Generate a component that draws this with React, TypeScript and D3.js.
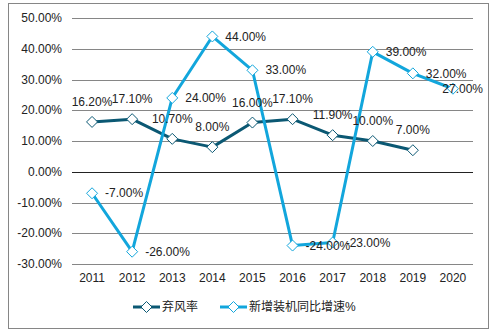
import React from "react";
import * as d3 from "d3";

const years = ["2011","2012","2013","2014","2015","2016","2017","2018","2019","2020"];
const abandonRate: (number | null)[] = [16.2, 17.1, 10.7, 8.0, 16.0, 17.1, 11.9, 10.0, 7.0, null];
const newGrowth: (number | null)[] = [-7, -26, 24, 44, 33, -24, -23, 39, 32, 27];
const yTicks = [50, 40, 30, 20, 10, 0, -10, -20, -30];
const seriesNames = ["弃风率", "新增装机同比增速%"];
const colors = ["#0b5873", "#12a6dc"];

const W = 498, H = 333;
const left = 72, right = 473, top = 18, bottom = 264;

export default function App() {
  const x = d3.scaleBand().domain(years).range([left, right]);
  const y = d3.scaleLinear().domain([-30, 50]).range([bottom, top]);
  const cx = (yr: string) => (x(yr) as number) + x.bandwidth() / 2;
  const font = "Arial, 'Liberation Sans', 'Noto Sans CJK SC', sans-serif";

  const mk = (vals: (number | null)[]) =>
    d3.line<number | null>()
      .defined((d) => d !== null)
      .x((_, i) => cx(years[i]))
      .y((d) => y(d as number))(vals) || "";

  const diamond = (px: number, py: number, c: string, key: string) => (
    <path key={key} d={`M${px},${py - 5.5}L${px + 5.5},${py}L${px},${py + 5.5}L${px - 5.5},${py}Z`} fill="#fff" stroke={c} strokeWidth={1} />
  );

  const fmt = (v: number) => v.toFixed(2) + "%";

  return (
    <svg width={W} height={H} style={{ position: "absolute", left: 0, top: 0, fontFamily: font }}>
      <rect x={0} y={0} width={W} height={H} fill="#fff" />
      <rect x={8.5} y={3.5} width={480} height={325} fill="#fff" stroke="#868686" strokeWidth={1} />
      {yTicks.map((t) => (
        <g key={t}>
          <line x1={left} x2={right} y1={Math.round(y(t)) + 0.5} y2={Math.round(y(t)) + 0.5} stroke={t === 0 ? "#222" : "#868686"} strokeWidth={1} />
          <text x={62} y={y(t)} dy="0.35em" textAnchor="end" fontSize={12} fill="#222">{fmt(t)}</text>
        </g>
      ))}
      {years.map((yr) => (
        <text key={yr} x={cx(yr)} y={278} dy="0.35em" textAnchor="middle" fontSize={12} fill="#222">{yr}</text>
      ))}
      <path d={mk(abandonRate)} fill="none" stroke={colors[0]} strokeWidth={3} strokeLinejoin="round" />
      <path d={mk(newGrowth)} fill="none" stroke={colors[1]} strokeWidth={3} strokeLinejoin="round" />
      {abandonRate.map((v, i) => v === null ? null : diamond(cx(years[i]), y(v), colors[0], "a" + i))}
      {newGrowth.map((v, i) => v === null ? null : diamond(cx(years[i]), y(v), colors[1], "b" + i))}
      {abandonRate.map((v, i) => v === null ? null : (
        <text key={"ta" + i} x={cx(years[i])} y={y(v) - 20} dy="0.35em" textAnchor="middle" fontSize={12} fill="#222">{fmt(v)}</text>
      ))}
      {newGrowth.map((v, i) => {
        if (v === null) return null;
        const lx = Math.min(cx(years[i]) + 13, 483);
        const anchor = cx(years[i]) + 13 + 42 > 485 ? "end" : "start";
        return (
          <text key={"tb" + i} x={anchor === "end" ? 483 : lx} y={y(v)} dy="0.35em" textAnchor={anchor} fontSize={12} fill="#222">{fmt(v)}</text>
        );
      })}
      <g>
        <line x1={133} x2={160} y1={307} y2={307} stroke={colors[0]} strokeWidth={3} />
        {diamond(146.5, 307, colors[0], "l0")}
        <text x={162} y={307} dy="0.35em" fontSize={12} fill="#222">{seriesNames[0]}</text>
        <line x1={220} x2={247} y1={307} y2={307} stroke={colors[1]} strokeWidth={3} />
        {diamond(233.5, 307, colors[1], "l1")}
        <text x={249} y={307} dy="0.35em" fontSize={12} fill="#222">{seriesNames[1]}</text>
      </g>
    </svg>
  );
}
